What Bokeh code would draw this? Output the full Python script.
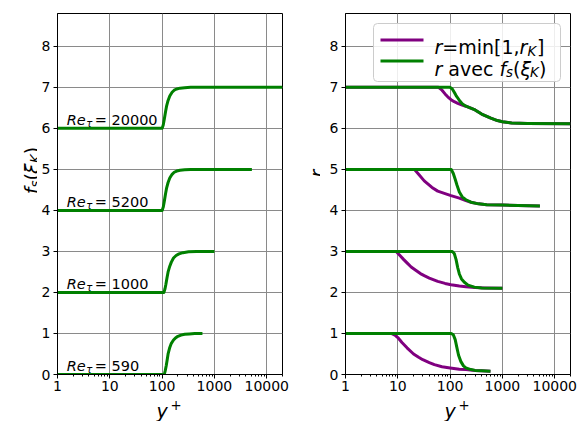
import math
from bokeh.plotting import figure
from bokeh.layouts import row, column
from bokeh.models import FixedTicker, Label, NumeralTickFormatter, BoxAnnotation
from bokeh.embed import file_html
from bokeh.resources import INLINE

# ---------------- data ----------------
re_values = [590, 1000, 5200, 20000]
offsets = [0, 2, 4, 6]

xticks = [1, 10, 100, 1000, 10000]
xtick_labels = ["1", "10", "100", "1000", "10000"]
yticks = [0, 1, 2, 3, 4, 5, 6, 7, 8]
ytick_labels = ["0", "1", "2", "3", "4", "5", "6", "7", "8"]

# left panel: f_s(xi_K)
fs_590_x = [1, 110, 115, 120, 125, 130, 140, 150, 165, 180, 200, 230, 270, 330, 420, 590]
fs_590_y = [0, 0, 0.1, 0.22, 0.36, 0.5, 0.66, 0.76, 0.84, 0.89, 0.93, 0.96, 0.98, 0.99, 1.0, 1.0]
fs_1000_x = [1, 108, 113, 118, 124, 130, 140, 150, 165, 185, 210, 250, 320, 450, 1000]
fs_1000_y = [0, 0, 0.08, 0.2, 0.36, 0.5, 0.64, 0.74, 0.84, 0.9, 0.94, 0.97, 0.99, 1.0, 1.0]
fs_5200_x = [1, 100, 105, 110, 116, 122, 130, 140, 155, 170, 190, 220, 270, 350, 5200]
fs_5200_y = [0, 0, 0.08, 0.22, 0.4, 0.55, 0.68, 0.79, 0.88, 0.93, 0.96, 0.98, 0.99, 1.0, 1.0]
fs_20000_x = [1, 100, 105, 110, 116, 122, 130, 140, 155, 170, 190, 220, 270, 350, 20000]
fs_20000_y = [0, 0, 0.08, 0.22, 0.4, 0.55, 0.68, 0.79, 0.88, 0.93, 0.96, 0.98, 0.99, 1.0, 1.0]

# right panel: r = min[1, r_K]
rk_590_x = [1, 7.5, 9, 10, 12, 15, 20, 25, 30, 40, 50, 70, 100, 150, 200, 300, 400, 590]
rk_590_y = [1, 1, 0.95, 0.9, 0.78, 0.65, 0.5, 0.42, 0.36, 0.29, 0.24, 0.19, 0.16, 0.13, 0.12, 0.1, 0.09, 0.08]
rk_1000_x = [1, 9.3, 11, 13, 15, 18, 22, 27, 32, 40, 58, 80, 104, 150, 200, 300, 450, 1000]
rk_1000_y = [1, 1, 0.9, 0.8, 0.72, 0.62, 0.54, 0.46, 0.41, 0.35, 0.27, 0.22, 0.19, 0.155, 0.14, 0.12, 0.11, 0.1]
rk_5200_x = [1, 20.7, 25, 32, 45, 58, 80, 104, 150, 200, 250, 350, 500, 1000, 2000, 5200]
rk_5200_y = [1, 1, 0.88, 0.72, 0.56, 0.47, 0.41, 0.36, 0.3, 0.24, 0.2, 0.16, 0.14, 0.13, 0.12, 0.11]
rk_20000_x = [1, 60, 70, 80, 90, 104, 120, 140, 170, 200, 300, 400, 600, 800, 1000, 1500, 3000, 20000]
rk_20000_y = [1, 1, 0.93, 0.84, 0.77, 0.7, 0.65, 0.61, 0.57, 0.54, 0.45, 0.35, 0.25, 0.19, 0.16, 0.13, 0.12, 0.11]

# right panel: r avec f_s(xi_K)
rf_590_x = [1, 105, 115, 125, 135, 145, 160, 180, 200, 250, 300, 400, 590]
rf_590_y = [1, 1, 0.97, 0.85, 0.65, 0.47, 0.32, 0.21, 0.16, 0.12, 0.1, 0.09, 0.08]
rf_1000_x = [1, 110, 120, 130, 140, 150, 165, 187, 220, 290, 400, 1000]
rf_1000_y = [1, 1, 0.95, 0.8, 0.6, 0.45, 0.33, 0.25, 0.18, 0.13, 0.11, 0.1]
rf_5200_x = [1, 105, 115, 125, 135, 150, 170, 200, 250, 350, 500, 1000, 2000, 5200]
rf_5200_y = [1, 1, 0.9, 0.76, 0.62, 0.45, 0.33, 0.26, 0.2, 0.16, 0.14, 0.13, 0.12, 0.11]
rf_20000_x = [1, 100, 110, 120, 130, 140, 155, 170, 200, 300, 400, 600, 800, 1000, 1500, 3000, 20000]
rf_20000_y = [1, 1, 0.96, 0.88, 0.8, 0.74, 0.66, 0.6, 0.54, 0.45, 0.35, 0.25, 0.19, 0.16, 0.13, 0.12, 0.11]

fs_series = [(fs_590_x, fs_590_y), (fs_1000_x, fs_1000_y), (fs_5200_x, fs_5200_y), (fs_20000_x, fs_20000_y)]
rk_series = [(rk_590_x, rk_590_y), (rk_1000_x, rk_1000_y), (rk_5200_x, rk_5200_y), (rk_20000_x, rk_20000_y)]
rf_series = [(rf_590_x, rf_590_y), (rf_1000_x, rf_1000_y), (rf_5200_x, rf_5200_y), (rf_20000_x, rf_20000_y)]

# ---------------- style ----------------
GREEN = "#008000"
PURPLE = "#800080"
GRID = "#8a8a8a"
FONT = "DejaVu Sans"
LW = 3
TOP_H = 395
BOT_H = 26
FRAME_W = 225
FRAME_H = 361
XMAX = 20000
YMAX = 8.8
re_label_x = 1.5
re_label_dy = 0.2

minor = [m * 10 ** e for e in range(0, 5) for m in range(2, 10) if m * 10 ** e <= XMAX]


def px_to_x(px):
    return 10 ** (px / FRAME_W * math.log10(XMAX))


def px_to_y(py):
    return py / FRAME_H * YMAX


def make_fig(width, bl, br):
    p = figure(width=width, height=TOP_H, x_axis_type="log", x_range=(1, XMAX),
               y_range=(0, YMAX), output_backend="svg", toolbar_location=None, tools="",
               title=None)
    p.min_border_left = bl
    p.min_border_right = br
    p.min_border_top = 13
    p.min_border_bottom = TOP_H - 13 - FRAME_H
    p.outline_line_color = "black"
    p.outline_line_width = 1
    p.outline_line_alpha = 1
    p.background_fill_color = "white"
    p.border_fill_color = "white"
    p.xaxis.ticker = FixedTicker(ticks=xticks, minor_ticks=minor)
    p.xaxis.formatter = NumeralTickFormatter(format="0")
    p.xaxis.major_label_overrides = {t: l for t, l in zip(xticks, xtick_labels)}
    p.yaxis.ticker = FixedTicker(ticks=yticks)
    p.yaxis.major_label_overrides = {t: l for t, l in zip(yticks, ytick_labels)}
    for ax in (p.xaxis[0], p.yaxis[0]):
        ax.major_label_text_font = FONT
        ax.major_label_text_font_size = "14px"
        ax.major_label_text_color = "black"
        ax.axis_line_color = "black"
        ax.major_tick_line_color = "black"
        ax.minor_tick_line_color = "black"
        ax.major_tick_in = 0
        ax.major_tick_out = 4
        ax.minor_tick_in = 0
        ax.minor_tick_out = 2
    p.xaxis.major_label_standoff = 2
    p.yaxis.major_label_standoff = 3
    p.yaxis.minor_tick_line_color = None
    p.xgrid.ticker = FixedTicker(ticks=xticks)
    p.ygrid.ticker = FixedTicker(ticks=yticks)
    p.grid.grid_line_color = GRID
    p.grid.grid_line_width = 1
    p.grid.grid_line_alpha = 1
    return p


def make_strip(width, height):
    s = figure(width=width, height=height, x_range=(0, 1), y_range=(0, 1),
               output_backend="svg", toolbar_location=None, tools="", title=None,
               x_axis_location=None, y_axis_location=None, min_border=0)
    s.min_border_left = s.min_border_right = s.min_border_top = s.min_border_bottom = 0
    s.outline_line_color = None
    s.background_fill_color = "white"
    s.border_fill_color = "white"
    s.grid.visible = False
    return s


def add_pieces(p, pieces, units="screen", angle=0.0, align="left", x0=0.0, y0=0.0):
    for txt, dx, dy, size, style in pieces:
        common = dict(text=txt, text_font=FONT, text_font_size=f"{size}px",
                      text_font_style=style, text_color="black", angle=angle,
                      text_align=align, text_baseline="alphabetic", level="overlay")
        if units == "screen":
            p.add_layout(Label(x=x0 + dx, y=y0 + dy, x_units="screen", y_units="screen", **common))
        else:
            p.add_layout(Label(x=x0, y=y0, x_offset=dx, y_offset=dy, **common))


# ---------------- left panel ----------------
p1 = make_fig(253, 20, 8)
for (xs, ys), off in zip(fs_series, offsets):
    p1.line(xs, [v + off for v in ys], line_color=GREEN, line_width=LW, line_join="round")

for re_v, off in zip(re_values, offsets):
    add_pieces(p1, [("Re", 0, 0, 14.5, "italic"), ("τ", 19.5, -3, 10.2, "italic"),
                    ("= " + str(re_v), 28, 0, 14.5, "normal")],
               units="data", x0=re_label_x, y0=off + re_label_dy)

# ---------------- right panel ----------------
p2 = make_fig(259, 25, 9)

# legend box (under the curves' level, over the grid)
LEG_W, LEG_H, LEG_M = 187, 58, 10
leg_left = FRAME_W - LEG_M - LEG_W
leg_top = FRAME_H - LEG_M
box = BoxAnnotation(left=px_to_x(leg_left), right=px_to_x(leg_left + LEG_W),
                    top=px_to_y(leg_top), bottom=px_to_y(leg_top - LEG_H),
                    fill_color="white", fill_alpha=0.85, line_color="#cccccc", line_width=1,
                    line_alpha=1, level="underlay")
if "border_radius" in BoxAnnotation.properties():
    box.border_radius = 4
p2.add_layout(box)

for (xs, ys), off in zip(rk_series, offsets):
    p2.line(xs, [v + off for v in ys], line_color=PURPLE, line_width=LW, line_join="round")
for (xs, ys), off in zip(rf_series, offsets):
    p2.line(xs, [v + off for v in ys], line_color=GREEN, line_width=LW, line_join="round")

# legend swatches
sw_y = [leg_top - 16.5, leg_top - 37.5]
p2.segment(x0=[px_to_x(leg_left + 7)] * 2, x1=[px_to_x(leg_left + 50)] * 2,
           y0=[px_to_y(v) for v in sw_y], y1=[px_to_y(v) for v in sw_y],
           line_color=[PURPLE, GREEN], line_width=LW)

lx = leg_left + 61
row1 = leg_top - 23.5
row2 = leg_top - 45
add_pieces(p2, [("r", lx + 0, row1, 19, "italic"),
                ("=min[1,", lx + 7.8, row1, 19, "normal"),
                ("r", lx + 85.1, row1, 19, "italic"),
                ("K", lx + 92.9, row1 - 4, 13.3, "italic"),
                ("]", lx + 102.5, row1, 19, "normal")])
add_pieces(p2, [("r", lx + 0, row2, 19, "italic"),
                ("avec", lx + 13.8, row2, 19, "normal"),
                ("f", lx + 64.9, row2, 19, "italic"),
                ("s", lx + 71.6, row2 - 4, 13.3, "italic"),
                ("(", lx + 78.5, row2, 19, "normal"),
                ("ξ", lx + 85.9, row2, 19, "italic"),
                ("K", lx + 95.4, row2 - 4, 13.3, "italic"),
                (")", lx + 104.5, row2, 19, "normal")])

# ---------------- axis-title strips ----------------
# rotated pieces are anchored at their end (text_align="right")
ystrip1 = make_strip(37, TOP_H)
ys0 = TOP_H - 215
add_pieces(ystrip1, [("f", 31, ys0 + 7.0, 19, "italic"),
                     ("s", 35, ys0 + 14.0, 13.3, "italic"),
                     ("(", 31, ys0 + 21.4, 19, "normal"),
                     ("ξ", 31, ys0 + 31.0, 19, "italic"),
                     ("K", 35, ys0 + 40.3, 13.3, "italic"),
                     (")", 31, ys0 + 47.7, 19, "normal")], angle=math.pi / 2, align="right")

ystrip2 = make_strip(30, TOP_H)
add_pieces(ystrip2, [("r", 26.7, TOP_H - 194 + 3.9, 19, "italic")], angle=math.pi / 2, align="right")

xstrip = make_strip(579, BOT_H)
for fx in (57, 345):
    add_pieces(xstrip, [("y", fx + 99, 11, 19, "italic"), ("+", fx + 113, 17, 13.3, "normal")])

layout = column(row(ystrip1, p1, ystrip2, p2), xstrip)
open("out.html", "w").write(file_html(layout, INLINE))
